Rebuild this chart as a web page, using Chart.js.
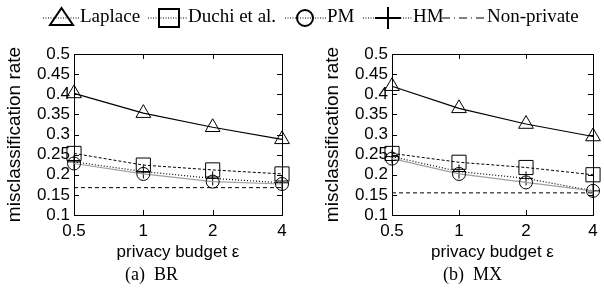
<!DOCTYPE html>
<html>
<head>
<meta charset="utf-8">
<script src="https://cdn.jsdelivr.net/npm/chart.js@4.4.1/dist/chart.umd.min.js"></script>
<style>
  html, body { margin: 0; padding: 0; background: #fff; }
  #page { position: relative; width: 604px; height: 291px; overflow: hidden; }
  .box { position: absolute; top: 0; height: 291px; }
  .cap { position: absolute; top: 264px; font: 18px "Liberation Serif", serif; color: #000; white-space: pre; }
  #legendSym { position: absolute; left: 0; top: 0; }
  .lg { position: absolute; top: 5px; font: 19px "Liberation Serif", serif; color: #000; line-height: 22px; }
</style>
</head>
<body>
<div id="page">
  <div class="box" style="left:0;width:300px"><canvas id="chartBR"></canvas></div>
  <div class="box" style="left:300px;width:304px"><canvas id="chartMX"></canvas></div>
  <canvas id="legendSym" width="604" height="32"></canvas>
  <span class="lg" style="left:80px">Laplace</span>
  <span class="lg" style="left:188px">Duchi et al.</span>
  <span class="lg" style="left:327px">PM</span>
  <span class="lg" style="left:413px">HM</span>
  <span class="lg" style="left:487px">Non-private</span>
  <div class="cap" style="left:125px">(a)  BR</div>
  <div class="cap" style="left:443px">(b)  MX</div>
</div>
<script>
// x categories (privacy budget) and y ticks
const epsilons = ['0.5', '1', '2', '4'];
const yTicks = [0.1, 0.15, 0.2, 0.25, 0.3, 0.35, 0.4, 0.45, 0.5];

// (a) BR
const laplaceBR = [0.402, 0.353, 0.318, 0.288];
const duchiBR   = [0.253, 0.224, 0.212, 0.202];
const pmBR      = [0.228, 0.202, 0.183, 0.177];
const hmBR      = [0.232, 0.208, 0.191, 0.180];
const nonPrivBR = [0.168, 0.168, 0.168, 0.168];

// (b) MX
const laplaceMX = [0.420, 0.365, 0.326, 0.295];
const duchiMX   = [0.253, 0.231, 0.218, 0.200];
const pmMX      = [0.240, 0.202, 0.181, 0.160];
const hmMX      = [0.245, 0.208, 0.191, 0.160];
const nonPrivMX = [0.155, 0.155, 0.155, 0.155];

const sans = '"Liberation Sans", Arial, sans-serif';

// gnuplot style box with inward ticks
const framePlugin = {
    id: 'frame',
    beforeDatasetsDraw(chart) {
        const { ctx, chartArea: a, scales } = chart;
        ctx.save();
        ctx.strokeStyle = '#000';
        ctx.lineWidth = 1;
        ctx.strokeRect(a.left + 0.5, a.top + 0.5, a.right - a.left, a.bottom - a.top);
        ctx.beginPath();
        yTicks.forEach(v => {
            const y = Math.round(scales.y.getPixelForValue(v)) + 0.5;
            ctx.moveTo(a.left, y); ctx.lineTo(a.left + 5, y);
            ctx.moveTo(a.right, y); ctx.lineTo(a.right - 5, y);
        });
        epsilons.forEach((e, i) => {
            const x = Math.round(scales.x.getPixelForValue(i)) + 0.5;
            ctx.moveTo(x, a.bottom); ctx.lineTo(x, a.bottom - 5);
            ctx.moveTo(x, a.top); ctx.lineTo(x, a.top + 5);
        });
        ctx.stroke();
        ctx.restore();
    }
};

function makeSets(lap, duchi, pm, hm, np) {
    const base = { fill: false, clip: false, pointBackgroundColor: 'rgba(0,0,0,0)', pointBorderColor: '#000', pointBorderWidth: 1 };
    return [
        { ...base, label: 'Non-private', data: np, borderColor: '#000', borderWidth: 1, borderDash: [4, 3], pointRadius: 0 },
        { ...base, label: 'PM', data: pm, borderColor: '#a0a0a0', borderWidth: 1.2, pointStyle: 'circle', pointRadius: 6.5 },
        { ...base, label: 'HM', data: hm, borderColor: '#000', borderWidth: 1.2, borderDash: [1, 2], pointStyle: 'cross', pointRadius: 7 },
        { ...base, label: 'Duchi et al.', data: duchi, borderColor: '#000', borderWidth: 1, borderDash: [3, 2], pointStyle: 'rect', pointRadius: 10 },
        { ...base, label: 'Laplace', data: lap, borderColor: '#000', borderWidth: 1.2, pointStyle: 'triangle', pointRadius: 8.5 }
    ];
}

function makeChart(id, padLeft, padRight, sets) {
    return new Chart(document.getElementById(id), {
        type: 'line',
        data: { labels: epsilons, datasets: sets },
        options: {
            responsive: false,
            animation: false,
            devicePixelRatio: 1,
            layout: { padding: { left: padLeft, right: padRight, top: 54, bottom: 0 } },
            plugins: { legend: { display: false }, tooltip: { enabled: false } },
            scales: {
                x: {
                    type: 'category',
                    offset: false,
                    grid: { display: false, drawTicks: false },
                    border: { display: false },
                    ticks: { color: '#000', font: { family: sans, size: 17 }, padding: 6, maxRotation: 0, autoSkip: false },
                    title: { display: true, text: 'privacy budget ε', color: '#000', font: { family: sans, size: 17 }, padding: { bottom: 28 } },
                    afterFit(s) { s.height = 76; }
                },
                y: {
                    min: 0.1, max: 0.5,
                    grid: { display: false, drawTicks: false },
                    border: { display: false },
                    afterBuildTicks(s) { s.ticks = yTicks.map(v => ({ value: v })); },
                    ticks: { color: '#000', font: { family: sans, size: 17 }, padding: 4, autoSkip: false, callback: v => String(v) },
                    title: { display: true, text: 'misclassification rate', color: '#000', font: { family: sans, size: 19 }, padding: { top: 3 } },
                    afterFit(s) { s.width = 74; }
                }
            }
        },
        plugins: [framePlugin]
    });
}

function sizeCanvas(id, w, h) {
    const c = document.getElementById(id);
    c.width = w; c.height = h;
    c.style.width = w + 'px'; c.style.height = h + 'px';
}
sizeCanvas('chartBR', 300, 291);
sizeCanvas('chartMX', 304, 291);

makeChart('chartBR', 0, 18, makeSets(laplaceBR, duchiBR, pmBR, hmBR, nonPrivBR));
makeChart('chartMX', 18, 5, makeSets(laplaceMX, duchiMX, pmMX, hmMX, nonPrivMX));

// legend symbols
(function () {
    const ctx = document.getElementById('legendSym').getContext('2d');
    const yc = 18;
    ctx.strokeStyle = '#000';
    function dotted(x0, x1) {
        ctx.save(); ctx.lineWidth = 1; ctx.setLineDash([1, 1.5]);
        ctx.beginPath(); ctx.moveTo(x0, yc); ctx.lineTo(x1, yc); ctx.stroke(); ctx.restore();
    }
    ctx.lineWidth = 2;
    dotted(43, 80);
    ctx.beginPath(); ctx.moveTo(50, 25); ctx.lineTo(73, 25); ctx.lineTo(61.5, 8); ctx.closePath(); ctx.stroke();
    dotted(148, 187);
    ctx.lineWidth = 2; ctx.strokeRect(159, 9, 20, 18);
    dotted(285, 327);
    ctx.lineWidth = 2; ctx.beginPath(); ctx.arc(305, yc, 8, 0, Math.PI * 2); ctx.stroke();
    dotted(363, 413);
    ctx.lineWidth = 2; ctx.beginPath(); ctx.moveTo(375, yc); ctx.lineTo(401, yc); ctx.moveTo(388, 7); ctx.lineTo(388, 29); ctx.stroke();
    ctx.save(); ctx.lineWidth = 1.2; ctx.setLineDash([8, 4, 1, 4]);
    ctx.beginPath(); ctx.moveTo(442, yc); ctx.lineTo(484, yc); ctx.stroke(); ctx.restore();
})();
</script>
</body>
</html>
